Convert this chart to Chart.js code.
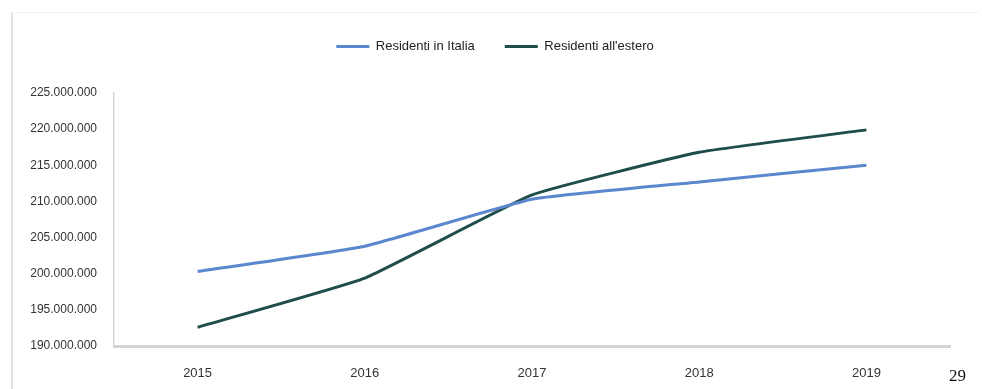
<!DOCTYPE html>
<html lang="it">
<head>
    <meta charset="utf-8" />
    <title>Residenti in Italia e all'estero</title>
    <script src="https://cdn.jsdelivr.net/npm/chart.js"></script>
    <style>
        html, body { margin: 0; padding: 0; background: #fff; }
        #wrap { position: relative; width: 982px; height: 389px; }
        #frame { position: absolute; left: 11px; top: 12px; width: 966px; height: 380px;
                 border-left: 2px solid #e2e2e2; border-top: 1px solid #f2f2f2; }
        #chart { position: absolute; left: 0; top: 0; }
        #page { position: absolute; left: 949px; top: 366px; font-family: 'Liberation Serif', 'DejaVu Serif', serif;
                font-size: 17px; color: #111; }
    </style>
</head>
<body>
    <div id="wrap">
        <div id="frame"></div>
        <canvas id="chart" width="982" height="389"></canvas>
        <div id="page">29</div>
    </div>
    <script>
        // dati
        const anni = ['2015', '2016', '2017', '2018', '2019'];
        const residentiItalia = [200300000, 203800000, 210300000, 212700000, 215000000];
        const residentiEstero = [192600000, 199400000, 210900000, 216800000, 219900000];

        const fontName = "'Liberation Sans Narrow', 'Arial Narrow', 'Liberation Sans', Arial, sans-serif";

        function formatta(v) {
            return String(v).replace(/\B(?=(\d{3})+(?!\d))/g, '.');
        }

        // spazio extra sotto la legenda, e legenda un po' spostata a destra
        const legendMargin = {
            id: 'legendMargin',
            beforeInit(chart) {
                const fit = chart.legend.fit;
                chart.legend.fit = function () {
                    fit.bind(chart.legend)();
                    this.height += 30;
                };
            },
            afterLayout(chart) {
                chart.legend.left += 20;
                chart.legend.right += 20;
            }
        };

        const ctx = document.getElementById('chart').getContext('2d');
        const chart = new Chart(ctx, {
            type: 'line',
            data: {
                labels: anni,
                datasets: [{
                    label: 'Residenti in Italia',
                    data: residentiItalia,
                    borderColor: '#5b87cf',
                    backgroundColor: '#5b87cf',
                    borderWidth: 3,
                    pointRadius: 0,
                    tension: 0.12
                }, {
                    label: "Residenti all'estero",
                    data: residentiEstero,
                    borderColor: '#1e4d4b',
                    backgroundColor: '#1e4d4b',
                    borderWidth: 3,
                    pointRadius: 0,
                    tension: 0.12
                }]
            },
            options: {
                responsive: false,
                animation: false,
                layout: { padding: { top: 10, right: 32, left: 0, bottom: 0 } },
                plugins: {
                    tooltip: { enabled: false },
                    legend: {
                        position: 'top',
                        labels: {
                            usePointStyle: true,
                            pointStyle: 'line',
                            pointStyleWidth: 33,
                            padding: 30,
                            color: '#222',
                            font: { family: fontName, size: 13 }
                        }
                    }
                },
                scales: {
                    x: {
                        offset: true,
                        grid: { display: false, drawTicks: false },
                        border: { display: true, color: '#d4d4d4', width: 3 },
                        ticks: { padding: 20, color: '#333', font: { family: fontName, size: 13 } },
                        afterFit(scale) { scale.height = 43; }
                    },
                    y: {
                        min: 190000000,
                        max: 225000000,
                        grid: { display: false, drawTicks: false },
                        border: { display: true, color: '#d4d4d4', width: 1.5 },
                        ticks: {
                            stepSize: 5000000,
                            padding: 17,
                            color: '#333',
                            font: { family: fontName, size: 12 },
                            callback: (v) => formatta(v)
                        },
                        afterFit(scale) { scale.width = 114; }
                    }
                }
            },
            plugins: [legendMargin]
        });
    </script>
</body>
</html>
